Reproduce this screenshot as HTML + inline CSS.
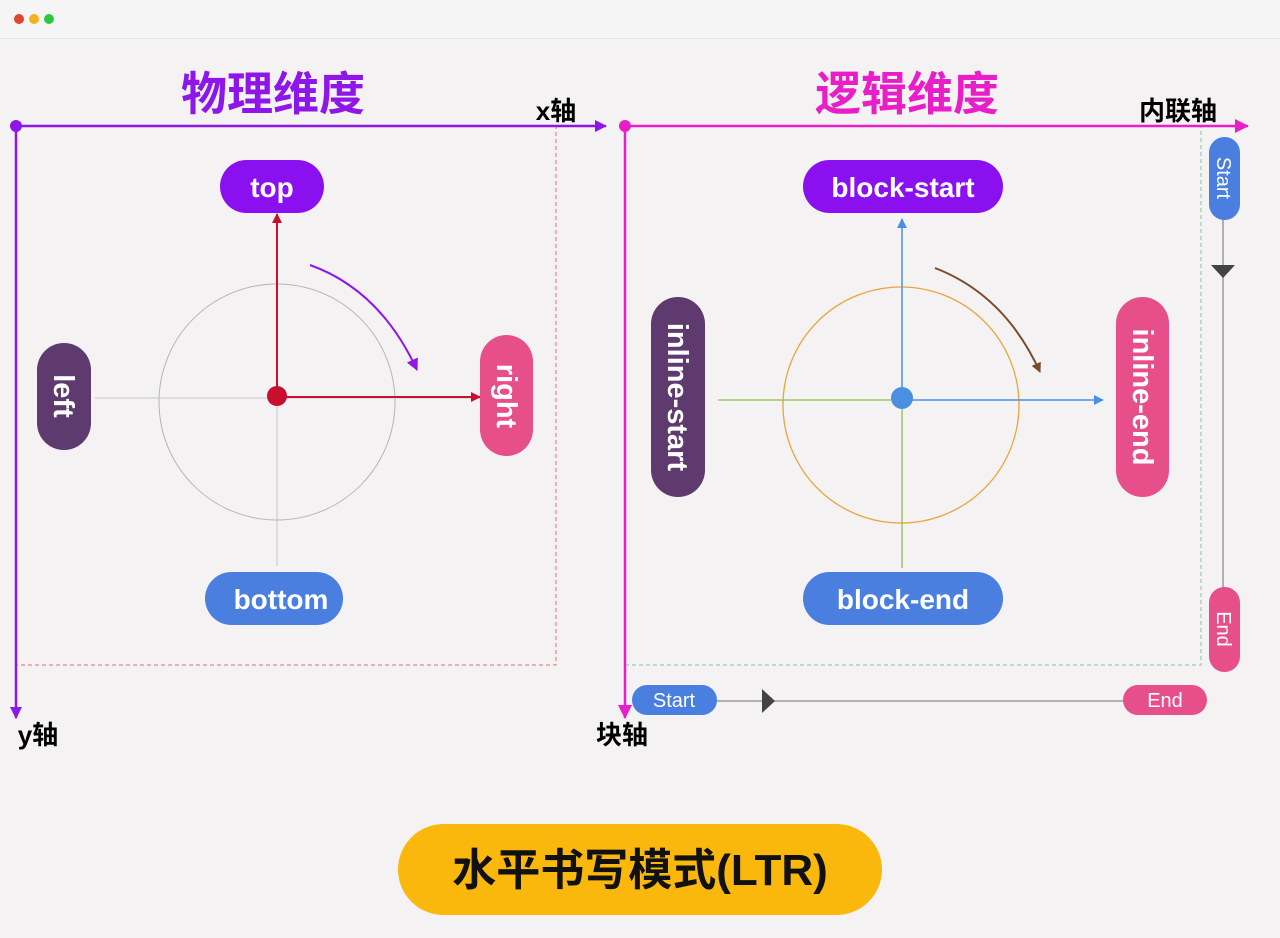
<!DOCTYPE html>
<html><head><meta charset="utf-8"><style>
body{margin:0;width:1280px;height:938px;background:#f4f2f3;overflow:hidden;font-family:"Liberation Sans","Noto Sans CJK SC",sans-serif}
</style></head><body>
<svg width="1280" height="938" xmlns="http://www.w3.org/2000/svg" style="position:absolute;left:0;top:0">
<defs>
<marker id="ap" markerWidth="12" markerHeight="12" refX="11" refY="6" orient="auto" markerUnits="userSpaceOnUse"><path d="M0,0 L12,6 L0,12z" fill="#8e16e8"/></marker>
<marker id="am" markerWidth="14" markerHeight="14" refX="13" refY="7" orient="auto" markerUnits="userSpaceOnUse"><path d="M0,0 L14,7 L0,14z" fill="#e81ec8"/></marker>
<marker id="ar" markerWidth="10" markerHeight="10" refX="9" refY="5" orient="auto" markerUnits="userSpaceOnUse"><path d="M0,0 L10,5 L0,10z" fill="#c8102e"/></marker>
<marker id="ab" markerWidth="10" markerHeight="10" refX="9" refY="5" orient="auto" markerUnits="userSpaceOnUse"><path d="M0,0 L10,5 L0,10z" fill="#4a90e2"/></marker>
<marker id="abr" markerWidth="10" markerHeight="10" refX="9" refY="5" orient="auto" markerUnits="userSpaceOnUse"><path d="M0,0 L10,5 L0,10z" fill="#7a4a2a"/></marker>
</defs>
<rect x="0" y="0" width="1280" height="38" fill="#f6f5f6"/>
<line x1="0" y1="38.5" x2="1280" y2="38.5" stroke="#e6e4e5"/>
<circle cx="19" cy="19" r="5" fill="#e0442e"/><circle cx="34" cy="19" r="5" fill="#f5b31a"/><circle cx="49" cy="19" r="5" fill="#2bc940"/>

<text x="273" y="110" text-anchor="middle" font-size="46" font-weight="bold" fill="#8e16e8">物理维度</text>
<text x="907" y="110" text-anchor="middle" font-size="46" font-weight="bold" fill="#e81ec8">逻辑维度</text>
<text x="556" y="120" text-anchor="middle" font-size="26" font-weight="bold" fill="#000">x轴</text>
<text x="38" y="744" text-anchor="middle" font-size="26" font-weight="bold" fill="#000">y轴</text>
<text x="1178" y="120" text-anchor="middle" font-size="26" font-weight="bold" fill="#000">内联轴</text>
<text x="622" y="744" text-anchor="middle" font-size="26" font-weight="bold" fill="#000">块轴</text>

<!-- left -->
<path d="M16,126 H556 V665 H16" fill="none" stroke="#e0706a" stroke-dasharray="4,3"/>
<line x1="16" y1="126" x2="606" y2="126" stroke="#8e16e8" stroke-width="2.5" marker-end="url(#ap)"/>
<line x1="16" y1="126" x2="16" y2="718" stroke="#8e16e8" stroke-width="2.5" marker-end="url(#ap)"/>
<circle cx="16" cy="126" r="6" fill="#8e16e8"/>
<circle cx="277" cy="402" r="118" fill="none" stroke="#b5b5b5"/>
<line x1="95" y1="398" x2="480" y2="398" stroke="#c8c8c8"/>
<line x1="277" y1="220" x2="277" y2="566" stroke="#c8c8c8"/>
<line x1="277" y1="396" x2="277" y2="214" stroke="#c8102e" stroke-width="2" marker-end="url(#ar)"/>
<line x1="277" y1="397" x2="480" y2="397" stroke="#c8102e" stroke-width="2" marker-end="url(#ar)"/>
<circle cx="277" cy="396" r="10" fill="#c8102e"/>
<path d="M310,265 Q380,290 417,370" fill="none" stroke="#8e16e8" stroke-width="2" marker-end="url(#ap)"/>
<rect x="220" y="160" width="104" height="53" rx="26.5" fill="#8b10f0"/>
<text x="272" y="197" text-anchor="middle" font-size="28" font-weight="bold" fill="#fff">top</text>
<rect x="205" y="572" width="138" height="53" rx="26.5" fill="#4a7fe0"/>
<text x="281" y="609" text-anchor="middle" font-size="28" font-weight="bold" fill="#fff">bottom</text>
<rect x="37" y="343" width="54" height="107" rx="27" fill="#5e3a6e"/>
<text transform="translate(54,396) rotate(90)" text-anchor="middle" font-size="29" font-weight="bold" fill="#fff">left</text>
<rect x="480" y="335" width="53" height="121" rx="26.5" fill="#e64f8a"/>
<text transform="translate(497,396) rotate(90)" text-anchor="middle" font-size="29" font-weight="bold" fill="#fff">right</text>

<!-- right -->
<path d="M625,126 H1201 V665 H625" fill="none" stroke="#7fc8a0" stroke-dasharray="4,3"/>
<line x1="625" y1="126" x2="1248" y2="126" stroke="#e81ec8" stroke-width="2.5" marker-end="url(#am)"/>
<line x1="625" y1="126" x2="625" y2="718" stroke="#e81ec8" stroke-width="2.5" marker-end="url(#am)"/>
<circle cx="625" cy="126" r="6" fill="#e81ec8"/>
<circle cx="901" cy="405" r="118" fill="none" stroke="#e8a53a" stroke-width="1.3"/>
<line x1="718" y1="400" x2="901" y2="400" stroke="#8bc34a" stroke-width="1.3"/>
<line x1="902" y1="400" x2="902" y2="568" stroke="#8bc34a" stroke-width="1.3"/>
<line x1="902" y1="398" x2="902" y2="219" stroke="#4a90e2" stroke-width="1.5" marker-end="url(#ab)"/>
<line x1="902" y1="400" x2="1103" y2="400" stroke="#4a90e2" stroke-width="1.5" marker-end="url(#ab)"/>
<circle cx="902" cy="398" r="11" fill="#4a90e2"/>
<path d="M935,268 Q1005,295 1040,372" fill="none" stroke="#7a4a2a" stroke-width="2" marker-end="url(#abr)"/>
<rect x="803" y="160" width="200" height="53" rx="26.5" fill="#8b10f0"/>
<text x="903" y="197" text-anchor="middle" font-size="28" font-weight="bold" fill="#fff">block-start</text>
<rect x="803" y="572" width="200" height="53" rx="26.5" fill="#4a7fe0"/>
<text x="903" y="609" text-anchor="middle" font-size="28" font-weight="bold" fill="#fff">block-end</text>
<rect x="651" y="297" width="54" height="200" rx="27" fill="#5e3a6e"/>
<text transform="translate(668,397) rotate(90)" text-anchor="middle" font-size="29" font-weight="bold" fill="#fff">inline-start</text>
<rect x="1116" y="297" width="53" height="200" rx="26.5" fill="#e64f8a"/>
<text transform="translate(1133,397) rotate(90)" text-anchor="middle" font-size="29" font-weight="bold" fill="#fff">inline-end</text>

<line x1="1223" y1="215" x2="1223" y2="590" stroke="#999" stroke-width="1.5"/>
<path d="M1211,265 L1235,265 L1223,278z" fill="#444"/>
<rect x="1209" y="137" width="31" height="83" rx="15.5" fill="#4a7fe0"/>
<text transform="translate(1217,178) rotate(90)" text-anchor="middle" font-size="20" fill="#fff">Start</text>
<rect x="1209" y="587" width="31" height="85" rx="15.5" fill="#e64f8a"/>
<text transform="translate(1217,629) rotate(90)" text-anchor="middle" font-size="20" fill="#fff">End</text>

<line x1="712" y1="701" x2="1128" y2="701" stroke="#999" stroke-width="1.5"/>
<path d="M762,689 L762,713 L775,701z" fill="#444"/>
<rect x="632" y="685" width="85" height="30" rx="15" fill="#4a7fe0"/>
<text x="674" y="707" text-anchor="middle" font-size="20" fill="#fff">Start</text>
<rect x="1123" y="685" width="84" height="30" rx="15" fill="#e64f8a"/>
<text x="1165" y="707" text-anchor="middle" font-size="20" fill="#fff">End</text>

<rect x="398" y="824" width="484" height="91" rx="45.5" fill="#fbb80c"/>
<text x="640" y="885" text-anchor="middle" font-size="44" font-weight="bold" fill="#111">水平书写模式(LTR)</text>
</svg>
</body></html>
